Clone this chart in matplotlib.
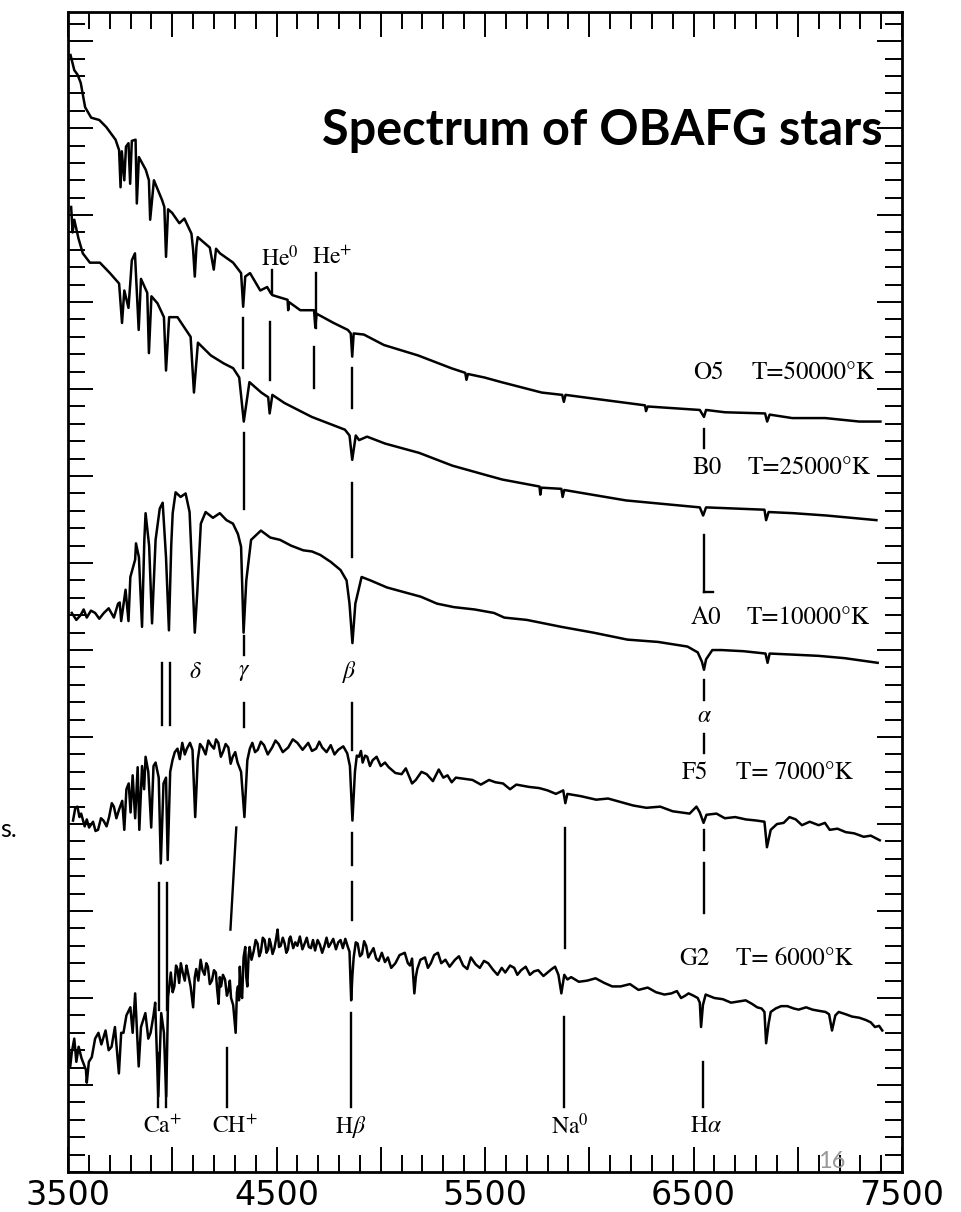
import matplotlib.pyplot as plt
from matplotlib.ticker import MultipleLocator

plt.rcParams['mathtext.fontset'] = 'stix'

# wavelength (Angstrom) and offset relative flux for each spectral type
o5_wl = [3512, 3530, 3546, 3561, 3582, 3611, 3650, 3683, 3728, 3745, 3752, 3758, 3770, 3778,
         3790, 3798, 3806, 3824, 3830, 3840, 3873, 3888, 3894, 3912, 3951, 3962, 3970, 3980,
         3999, 4034, 4058, 4092, 4100, 4108, 4116, 4122, 4180, 4199, 4210, 4229, 4292, 4330,
         4340, 4350, 4373, 4422, 4455, 4471, 4480, 4553, 4556, 4560, 4614, 4680, 4686, 4692,
         4774, 4842, 4856, 4863, 4870, 4919, 5015, 5179, 5338, 5405, 5411, 5418, 5497, 5578,
         5772, 5870, 5878, 5886, 6012, 6267, 6272, 6280, 6530, 6550, 6560, 6651, 6843, 6853,
         6865, 6973, 7132, 7295, 7396]
o5_flux = [96.3, 95.0, 94.6, 93.9, 91.8, 90.9, 90.7, 90.1, 89.0, 88.1, 84.9, 88.0, 85.5, 88.4,
           88.7, 85.2, 88.9, 89.0, 83.5, 87.5, 86.4, 85.5, 82.1, 85.5, 83.8, 83.2, 78.9, 83.0,
           82.7, 81.8, 82.2, 80.9, 79.5, 77.2, 79.8, 80.6, 79.7, 77.8, 79.6, 79.2, 78.4, 77.5,
           74.6, 77.2, 77.5, 76.0, 76.3, 75.8, 75.6, 75.2, 74.3, 75.0, 74.3, 74.3, 72.8, 74.0,
           73.2, 72.6, 72.3, 70.3, 72.3, 72.2, 71.3, 70.4, 69.3, 68.9, 68.3, 68.8, 68.5, 68.1,
           67.2, 67.0, 66.4, 67.0, 66.7, 66.1, 65.6, 66.0, 65.7, 65.1, 65.7, 65.5, 65.4, 64.7,
           65.3, 65.0, 65.0, 64.7, 64.7]

b0_wl = [3515, 3522, 3530, 3550, 3571, 3605, 3653, 3701, 3745, 3759, 3770, 3790, 3800, 3806,
         3821, 3839, 3850, 3880, 3888, 3900, 3929, 3960, 3970, 3985, 4025, 4088, 4104, 4123,
         4185, 4248, 4292, 4321, 4343, 4370, 4427, 4460, 4467, 4480, 4538, 4669, 4828, 4850,
         4863, 4880, 4896, 4934, 5021, 5184, 5343, 5502, 5583, 5761, 5765, 5770, 5866, 5872,
         5880, 6176, 6530, 6546, 6560, 6840, 6848, 6860, 6979, 7137, 7377]
b0_flux = [83.2, 81.0, 82.1, 80.5, 79.2, 78.4, 78.4, 77.5, 76.6, 73.2, 76.0, 74.5, 77.0, 78.6,
           79.2, 72.6, 77.0, 75.8, 70.6, 75.5, 74.9, 73.7, 69.1, 73.7, 73.7, 72.0, 67.2, 71.5,
           70.4, 69.7, 69.3, 68.5, 64.7, 68.1, 67.2, 66.8, 65.4, 67.0, 66.3, 65.1, 64.0, 63.5,
           61.4, 63.5, 63.1, 63.4, 62.8, 62.0, 60.9, 60.1, 59.7, 59.1, 58.4, 59.0, 58.9, 58.2,
           58.8, 57.9, 57.3, 56.6, 57.3, 57.1, 56.2, 56.9, 56.8, 56.6, 56.2]

a0_wl = [3518, 3540, 3560, 3575, 3590, 3610, 3630, 3650, 3672, 3695, 3720, 3740, 3748, 3755,
         3776, 3790, 3799, 3822, 3826, 3840, 3855, 3866, 3872, 3889, 3903, 3920, 3940, 3954,
         3970, 3984, 3995, 4002, 4016, 4040, 4064, 4083, 4095, 4108, 4120, 4137, 4160, 4195,
         4228, 4260, 4291, 4315, 4330, 4342, 4355, 4378, 4425, 4470, 4517, 4570, 4628, 4670,
         4710, 4760, 4807, 4836, 4850, 4864, 4878, 4908, 4951, 5029, 5110, 5192, 5270, 5351,
         5450, 5543, 5592, 5700, 5866, 6020, 6183, 6330, 6471, 6520, 6540, 6550, 6560, 6590,
         6634, 6740, 6845, 6855, 6865, 6985, 7100, 7225, 7383]
a0_flux = [48.2, 47.6, 48.0, 48.5, 47.8, 48.4, 48.2, 47.7, 48.2, 48.6, 47.8, 49.0, 49.1, 47.5,
           50.2, 47.5, 51.3, 52.8, 54.2, 53.0, 47.0, 54.5, 56.8, 54.0, 47.3, 54.5, 57.2, 57.7,
           53.0, 46.7, 54.0, 56.8, 58.6, 58.2, 58.5, 56.9, 52.0, 46.5, 50.0, 55.9, 56.9, 56.4,
           56.8, 56.2, 55.9, 55.0, 53.9, 46.5, 51.0, 54.5, 55.3, 54.7, 54.5, 54.0, 53.6, 53.5,
           53.2, 52.6, 51.9, 51.0, 49.0, 45.6, 49.0, 51.3, 51.0, 50.4, 50.0, 49.6, 49.0, 48.7,
           48.5, 48.2, 47.8, 47.6, 47.0, 46.5, 45.9, 45.7, 45.3, 44.8, 44.0, 43.3, 44.2, 45.0,
           45.0, 44.9, 44.7, 43.9, 44.7, 44.6, 44.5, 44.3, 43.9]

f5_wl = [3524, 3535, 3545, 3555, 3563, 3580, 3590, 3601, 3620, 3632, 3644, 3658, 3670, 3685,
         3697, 3710, 3720, 3732, 3744, 3760, 3770, 3780, 3791, 3800, 3810, 3822, 3834, 3842,
         3855, 3865, 3872, 3885, 3899, 3910, 3920, 3935, 3945, 3958, 3970, 3978, 3990, 4001,
         4012, 4025, 4036, 4048, 4060, 4070, 4085, 4097, 4110, 4122, 4133, 4145, 4160, 4173,
         4186, 4200, 4210, 4221, 4233, 4245, 4256, 4269, 4280, 4290, 4302, 4313, 4330, 4346,
         4360, 4372, 4384, 4397, 4410, 4425, 4440, 4458, 4479, 4495, 4510, 4530, 4556, 4578,
         4600, 4625, 4652, 4670, 4690, 4705, 4719, 4740, 4760, 4778, 4796, 4820, 4839, 4852,
         4864, 4876, 4885, 4895, 4905, 4913, 4925, 4935, 4948, 4961, 4980, 5000, 5020, 5038,
         5070, 5100, 5120, 5150, 5168, 5195, 5220, 5250, 5278, 5300, 5320, 5340, 5360, 5400,
         5440, 5480, 5519, 5550, 5586, 5620, 5650, 5680, 5711, 5760, 5800, 5840, 5875, 5885,
         5895, 5960, 6033, 6090, 6150, 6210, 6274, 6340, 6400, 6440, 6481, 6514, 6530, 6548,
         6562, 6610, 6650, 6700, 6750, 6803, 6840, 6852, 6870, 6900, 6932, 6960, 6990, 7020,
         7057, 7100, 7130, 7153, 7190, 7230, 7270, 7316, 7350, 7393]
f5_flux = [30.3, 31.4, 31.5, 30.6, 30.9, 29.8, 30.4, 29.7, 30.2, 29.4, 29.5, 30.5, 30.3, 29.8,
           30.6, 31.8, 31.5, 30.5, 31.2, 32.0, 29.5, 33.0, 33.5, 31.0, 34.2, 30.5, 34.9, 29.5,
           35.0, 33.0, 35.8, 34.5, 29.7, 35.0, 35.3, 34.0, 26.6, 33.5, 34.0, 26.9, 34.5, 35.5,
           36.2, 36.5, 35.6, 37.0, 36.0, 36.5, 37.0, 36.4, 30.6, 35.5, 36.9, 36.6, 36.0, 37.2,
           36.8, 36.5, 37.3, 37.0, 35.8, 36.3, 36.9, 36.6, 35.2, 35.8, 36.2, 35.3, 34.5, 30.6,
           35.5, 36.5, 37.0, 36.2, 36.4, 37.1, 36.8, 36.0, 36.6, 37.2, 36.9, 36.2, 36.6, 37.3,
           37.0, 36.4, 37.0, 36.3, 36.5, 37.1, 36.6, 36.2, 36.8, 36.0, 36.4, 36.7, 36.1, 35.0,
           30.3, 34.5, 35.9, 35.8, 36.3, 35.3, 35.9, 35.8, 35.0, 35.5, 35.8, 35.0, 35.3, 34.9,
           34.4, 34.3, 34.8, 33.5, 33.8, 34.5, 34.3, 33.7, 34.7, 34.0, 34.2, 33.6, 34.0, 33.9,
           33.8, 33.4, 33.8, 33.6, 33.5, 33.0, 33.4, 33.3, 33.2, 33.1, 32.9, 32.6, 32.9, 31.8,
           32.6, 32.4, 32.1, 32.2, 31.9, 31.6, 31.4, 31.5, 31.1, 31.0, 30.9, 31.5, 31.0, 30.1,
           30.8, 30.9, 30.5, 30.6, 30.4, 30.3, 30.2, 28.0, 29.5, 30.0, 30.1, 30.6, 30.4, 29.9,
           30.2, 29.9, 30.1, 29.5, 29.6, 29.3, 29.2, 28.9, 29.0, 28.6]

g2_wl = [3502, 3510, 3518, 3530, 3540, 3551, 3565, 3586, 3590, 3600, 3614, 3630, 3646, 3660,
         3680, 3695, 3709, 3725, 3744, 3755, 3766, 3780, 3799, 3810, 3822, 3830, 3839, 3850,
         3871, 3885, 3896, 3910, 3918, 3933, 3947, 3960, 3971, 3980, 3993, 4002, 4010, 4018,
         4025, 4033, 4041, 4050, 4060, 4068, 4075, 4088, 4100, 4108, 4115, 4125, 4136, 4145,
         4155, 4163, 4171, 4180, 4190, 4200, 4209, 4215, 4222, 4228, 4234, 4243, 4253, 4262,
         4270, 4276, 4282, 4292, 4304, 4310, 4315, 4320, 4324, 4330, 4335, 4342, 4350, 4355,
         4360, 4366, 4371, 4380, 4390, 4400, 4409, 4417, 4425, 4434, 4443, 4452, 4460, 4466,
         4472, 4481, 4490, 4498, 4505, 4512, 4520, 4530, 4539, 4547, 4555, 4561, 4567, 4580,
         4590, 4600, 4612, 4624, 4635, 4645, 4655, 4665, 4675, 4685, 4697, 4708, 4719, 4730,
         4740, 4750, 4760, 4772, 4785, 4796, 4807, 4818, 4830, 4842, 4850, 4858, 4864, 4870,
         4880, 4889, 4900, 4910, 4920, 4930, 4940, 4952, 4965, 4978, 4990, 5005, 5020, 5034,
         5050, 5070, 5090, 5115, 5130, 5140, 5150, 5161, 5168, 5175, 5190, 5212, 5226, 5240,
         5256, 5274, 5290, 5310, 5330, 5356, 5375, 5395, 5415, 5432, 5455, 5475, 5495, 5515,
         5540, 5560, 5580, 5597, 5620, 5640, 5655, 5673, 5695, 5715, 5735, 5755, 5780, 5800,
         5820, 5836, 5852, 5866, 5880, 5895, 5913, 5950, 5990, 6030, 6072, 6110, 6150, 6195,
         6236, 6280, 6320, 6360, 6394, 6420, 6440, 6460, 6476, 6500, 6520, 6530, 6536, 6545,
         6558, 6600, 6640, 6680, 6716, 6750, 6780, 6805, 6826, 6840, 6848, 6860, 6870, 6894,
         6920, 6950, 6980, 7004, 7040, 7070, 7100, 7133, 7150, 7164, 7180, 7196, 7230, 7260,
         7295, 7327, 7350, 7370, 7390, 7405]
g2_flux = [11.4, 9.0, 10.3, 11.5, 9.5, 10.8, 9.8, 8.8, 7.7, 9.5, 9.9, 11.5, 12.0, 11.0,
           12.2, 10.5, 10.8, 12.5, 8.5, 12.0, 12.0, 13.5, 14.2, 12.0, 15.4, 12.5, 9.1, 12.5,
           13.7, 11.5, 12.0, 13.5, 14.6, 6.5, 13.7, 12.0, 6.5, 15.1, 17.2, 15.5, 16.0, 17.8,
           17.5, 16.3, 18.0, 17.2, 16.5, 17.8, 17.2, 16.0, 14.2, 16.8, 17.5, 16.5, 18.3, 17.4,
           17.0, 18.0, 17.7, 16.2, 16.5, 17.4, 17.2, 15.8, 14.5, 16.8, 16.0, 17.0, 16.6, 15.2,
           15.7, 16.5, 15.0, 14.4, 12.0, 15.5, 16.0, 14.8, 17.7, 15.3, 15.0, 18.5, 19.4, 16.8,
           16.0, 18.6, 19.4, 18.3, 19.0, 20.0, 19.7, 18.6, 19.0, 20.2, 20.0, 18.9, 19.2, 20.1,
           19.7, 18.8, 19.3, 20.1, 20.9, 19.4, 19.5, 20.2, 19.7, 18.9, 19.2, 20.1, 20.3, 19.3,
           19.8, 19.5, 20.3, 19.2, 19.7, 20.2, 19.4, 19.3, 20.0, 19.1, 20.0, 19.6, 18.9, 19.5,
           20.2, 19.4, 19.7, 20.1, 19.2, 19.8, 20.0, 19.3, 20.1, 19.4, 19.0, 14.8, 17.0, 18.5,
           19.8, 19.7, 18.6, 18.8, 19.9, 19.5, 18.5, 18.9, 19.3, 18.4, 18.2, 18.9, 18.1, 18.5,
           17.6, 18.0, 18.7, 18.9, 18.0, 17.8, 18.4, 15.4, 16.8, 17.5, 18.3, 18.5, 17.6, 18.0,
           18.7, 18.9, 18.0, 18.3, 17.7, 18.3, 18.6, 17.8, 17.5, 18.5, 17.9, 17.6, 18.2, 18.0,
           17.4, 17.0, 17.6, 17.2, 17.8, 17.6, 17.0, 17.4, 17.7, 17.0, 17.3, 17.4, 16.9, 17.2,
           17.5, 17.7, 17.0, 15.4, 17.0, 16.6, 16.8, 16.4, 16.5, 16.7, 16.3, 16.0, 16.0, 16.2,
           15.7, 15.9, 15.5, 15.3, 15.4, 15.6, 15.0, 15.2, 15.4, 15.2, 15.0, 14.6, 12.5, 14.4,
           15.3, 15.0, 14.9, 14.6, 14.7, 14.8, 14.5, 14.2, 14.1, 13.8, 11.1, 12.8, 13.8, 14.1,
           14.3, 14.3, 14.1, 14.0, 14.2, 14.0, 13.9, 13.8, 13.6, 12.2, 13.5, 13.8, 13.6, 13.4,
           13.3, 13.1, 12.9, 12.5, 12.6, 12.2]

spectra = [(o5_wl, o5_flux), (b0_wl, b0_flux), (a0_wl, a0_flux),
           (f5_wl, f5_flux), (g2_wl, g2_flux)]

# spectral type, temperature label, label position (wavelength, flux)
types = ['O5', 'B0', 'A0', 'F5', 'G2']
temps = ['T=50000°K', 'T=25000°K', 'T=10000°K', 'T= 7000°K', 'T= 6000°K']
type_wl = [6570, 6563, 6557, 6507, 6503]
temp_wl = [6780, 6760, 6753, 6704, 6704]
label_y = [68.9, 60.7, 47.8, 34.4, 18.4]

# line identification ticks: (wl0, y0, wl1, y1)
id_marks = [
    (4480, 77.8, 4480, 75.8), (4688, 77.5, 4688, 72.8),
    (4340, 73.6, 4340, 69.3), (4471, 73.3, 4471, 68.3), (4680, 71.1, 4680, 67.6),
    (4864, 69.3, 4864, 65.9), (6552, 64.1, 6552, 62.4),
    (4344, 63.7, 4344, 57.2), (4862, 59.4, 4862, 53.0),
    (6550, 54.9, 6550, 50.0), (6550, 50.0, 6595, 50.0),
    (4344, 46.2, 4344, 44.6), (6550, 42.4, 6550, 40.7), (6550, 37.8, 6550, 36.1),
    (3949, 43.9, 3949, 38.5), (3987, 43.9, 3987, 38.5),
    (4342, 40.4, 4342, 38.4), (4862, 40.4, 4862, 36.4),
    (3935, 24.9, 3935, 14.0), (3975, 24.9, 3975, 14.0),
    (4307, 29.7, 4279, 20.9), (4862, 29.2, 4862, 26.5), (4862, 25.0, 4862, 21.7),
    (5883, 29.7, 5883, 19.3), (6548, 29.5, 6548, 27.8), (6548, 26.6, 6548, 22.3),
    (3933, 10.3, 3933, 5.6), (3971, 10.3, 3971, 5.6), (4263, 10.7, 4263, 5.6),
    (4858, 13.7, 4858, 5.6), (5880, 13.4, 5880, 5.6), (6545, 9.5, 6545, 5.6),
]

# line names: text, wavelength, flux
line_names = [
    (r'He$^{0}$', 4518, 78.8), (r'He$^{+}$', 4767, 78.8),
    (r'$\delta$', 4112, 43.1), (r'$\gamma$', 4345, 43.1), (r'$\beta$', 4850, 43.1),
    (r'$\alpha$', 6552, 39.3),
    (r'Ca$^{+}$', 3954, 3.9), (r'CH$^{+}$', 4300, 3.9), (r'H$\beta$', 4855, 3.9),
    (r'Na$^{0}$', 5905, 3.9), (r'H$\alpha$', 6560, 3.9),
]

xticks = [3500, 4000, 4500, 5000, 5500, 6000, 6500, 7000, 7500]
xtick_labels = ['3500', '', '4500', '', '5500', '', '6500', '', '7500']

fig = plt.figure(figsize=(9.62, 12.12), dpi=100)
ax = fig.add_axes([0.0707, 0.033, 0.867, 0.957])

for wl, fl in spectra:
    ax.plot(wl, fl, color='black', lw=1.8)

for x0, y0, x1, y1 in id_marks:
    ax.plot([x0, x1], [y0, y1], color='black', lw=1.7)

serif = 'STIXGeneral'
for t, tw, temp, mw, yv in zip(types, type_wl, temps, temp_wl, label_y):
    ax.text(tw, yv, t, ha='center', va='center', fontsize=18, family=serif)
    ax.text(mw, yv, temp, ha='left', va='center', fontsize=18, family=serif)

for txt, wl, yv in line_names:
    ax.text(wl, yv, txt, ha='center', va='center', fontsize=17, family=serif)

ax.set_xlim(3500, 7500)
ax.set_ylim(0, 100)
ax.set_xticks(xticks)
ax.set_xticklabels(xtick_labels, fontsize=24, family='DejaVu Sans')
ax.xaxis.set_minor_locator(MultipleLocator(100))
ax.yaxis.set_major_locator(MultipleLocator(7.5))
ax.yaxis.set_minor_locator(MultipleLocator(1.5))
ax.set_yticklabels([])
ax.tick_params(which='both', direction='in', top=True, right=True,
               width=1.4, color='black')
ax.tick_params(which='major', length=18, pad=5)
ax.tick_params(which='minor', length=12)
for sp in ax.spines.values():
    sp.set_linewidth(2.0)

fig.text(0.917, 0.880, 'Spectrum of OBAFG stars', ha='right', va='baseline',
         fontsize=35, fontweight='bold', family='Lato')
fig.text(0.0, 0.309, 's.', ha='left', va='baseline', fontsize=18, family='Lato')
fig.text(0.865, 0.0363, '16', ha='center', va='baseline', fontsize=17,
         family='Lato', color='#999999')

fig.savefig('out.png', dpi=100)
